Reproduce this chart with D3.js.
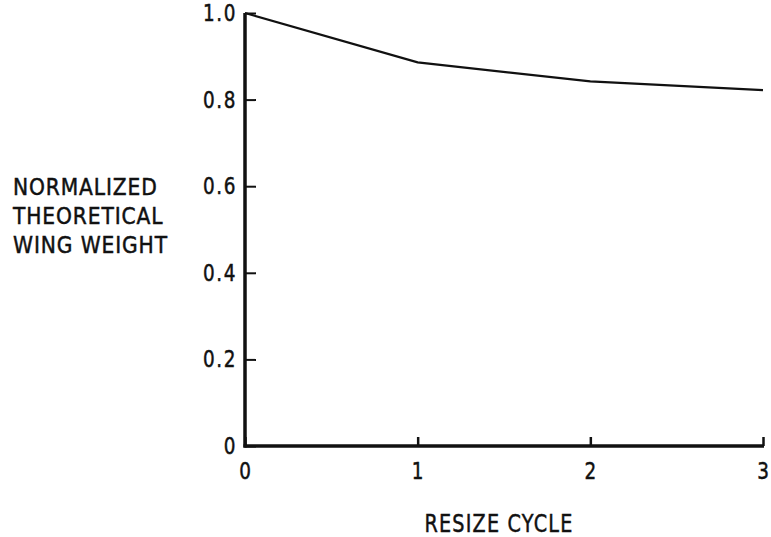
<!DOCTYPE html>
<html>
<head>
<meta charset="utf-8">
<script src="https://cdn.jsdelivr.net/npm/d3@7"></script>
<style>
  body { margin: 0; background: #fff; }
  svg { display: block; }
  text { font-family: "DejaVu Sans", sans-serif; fill: #111; stroke: #111; stroke-width: 0.5; }
</style>
</head>
<body>
<svg id="chart" width="771" height="537"></svg>
<script>
// ── Data ──
const cycles = [0, 1, 2, 3];
const weights = [1.0, 0.886, 0.842, 0.822];
const yTicks = [0, 0.2, 0.4, 0.6, 0.8, 1.0];
const yTickLabels = ["0", "0.2", "0.4", "0.6", "0.8", "1.0"];
const yTitle = ["NORMALIZED", "THEORETICAL", "WING WEIGHT"];
const xTitle = "RESIZE CYCLE";

// condensed look: squeeze glyphs to the widths seen in the scan
const condense = 0.8;

const svg = d3.select("#chart");

// ── Scales ──
const x = d3.scaleLinear().domain([0, 3]).range([245, 763]);
const y = d3.scaleLinear().domain([0, 1]).range([446, 13]);

// ── Axes (ticks point inward) ──
const yAxis = d3.axisRight(y)
  .tickValues(yTicks)
  .tickSize(11)
  .tickFormat("");
const gy = svg.append("g").attr("transform", `translate(${x(0)},0)`).call(yAxis);
gy.select(".domain").remove();
gy.selectAll(".tick line").attr("stroke", "#111").attr("stroke-width", 2);

const xAxis = d3.axisTop(x)
  .tickValues(cycles)
  .tickSize(9)
  .tickFormat("");
const gx = svg.append("g").attr("transform", `translate(0,${y(0)})`).call(xAxis);
gx.select(".domain").remove();
gx.selectAll(".tick line").attr("stroke", "#111").attr("stroke-width", 2.5);

// axis lines
svg.append("line")
  .attr("x1", x(0)).attr("x2", x(0))
  .attr("y1", y(1)).attr("y2", y(0) + 1.5)
  .attr("stroke", "#111").attr("stroke-width", 3.5);
svg.append("line")
  .attr("x1", x(0) - 1.5).attr("x2", x(3) + 1)
  .attr("y1", y(0)).attr("y2", y(0))
  .attr("stroke", "#111").attr("stroke-width", 3.5);

// squeeze a text node horizontally to a fraction of its natural width
function squeeze(sel, k) {
  sel.each(function() {
    const w = this.getComputedTextLength();
    d3.select(this)
      .attr("textLength", w * k)
      .attr("lengthAdjust", "spacingAndGlyphs");
  });
}

// ── Tick labels ──
svg.selectAll(".ylab")
  .data(yTicks)
  .join("text")
  .attr("class", "ylab")
  .attr("x", x(0) - 8)
  .attr("y", d => y(d) + 8)
  .attr("text-anchor", "end")
  .attr("font-size", 23)
  .attr("letter-spacing", 2)
  .text((d, i) => yTickLabels[i])
  .call(squeeze, condense);

svg.selectAll(".xlab")
  .data(cycles)
  .join("text")
  .attr("class", "xlab")
  .attr("x", d => x(d))
  .attr("y", y(0) + 33)
  .attr("text-anchor", "middle")
  .attr("font-size", 23)
  .text(d => d)
  .call(squeeze, condense);

// ── Titles ──
svg.selectAll(".ytitle")
  .data(yTitle)
  .join("text")
  .attr("class", "ytitle")
  .attr("x", 13)
  .attr("y", (d, i) => 195 + i * 29)
  .attr("font-size", 23)
  .attr("letter-spacing", 1)
  .text(d => d)
  .call(squeeze, 0.88);

svg.append("text")
  .attr("x", 499)
  .attr("y", 532)
  .attr("text-anchor", "middle")
  .attr("font-size", 24)
  .attr("letter-spacing", 1.5)
  .text(xTitle)
  .call(squeeze, 0.8);

// ── Data line ──
const line = d3.line()
  .x((d, i) => x(cycles[i]))
  .y(d => y(d));

svg.append("path")
  .datum(weights)
  .attr("fill", "none")
  .attr("stroke", "#111")
  .attr("stroke-width", 2.2)
  .attr("d", line);
</script>
</body>
</html>
